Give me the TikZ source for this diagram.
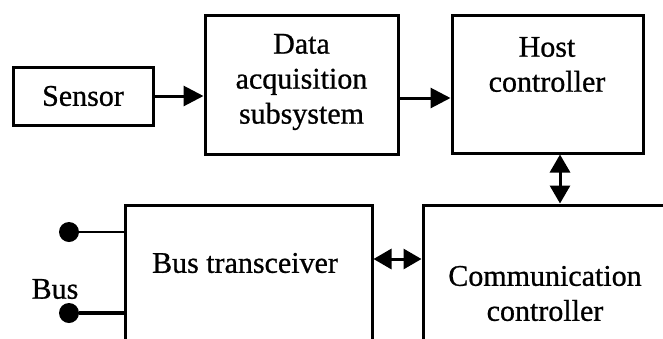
\documentclass[tikz,border=0pt]{standalone}
\usepackage{fontspec}
\setmainfont{Liberation Serif}
\newfontfamily\inkfont[FakeBold=0.8]{Liberation Serif}
\usetikzlibrary{arrows.meta}
\begin{document}
\begin{tikzpicture}[x=1pt, y=-1pt,
  every node/.style={font=\inkfont\fontsize{30}{35}\selectfont, inner sep=0pt},
  blk/.style={draw, line width=3pt, fill=none},
  lbl/.style={align=center},
  link/.style={line width=3pt, -{Triangle[length=20pt, width=20pt]}},
  duplex/.style={line width=3pt, {Triangle[length=18pt, width=20pt]}-{Triangle[length=18pt, width=20pt]}},
  terminal/.style={circle, fill, minimum size=20pt},
  wire/.style={line width=2.4pt}]
  \useasboundingbox (0,0) rectangle (663,338);
  \clip (0,0) rectangle (663,338);

  % upper row of blocks
  \node[blk, minimum width=140pt, minimum height=58pt] (sensor) at (83,96) {Sensor};
  \node[blk, minimum width=193pt, minimum height=139pt] (daq) at (301.5,84.5) {};
  \node[lbl] (daqtxt) at (301.5,82) {Data\\acquisition\\subsystem};
  \node[blk, minimum width=191pt, minimum height=138pt] (host) at (547.5,84) {};
  \node[lbl] (hosttxt) at (547,64.5) {Host\\controller};

  % lower row of blocks (continue below the frame)
  \node[blk, minimum width=247pt, minimum height=175pt] (bus) at (248.5,292.5) {};
  \node[lbl] (bustxt) at (245,263) {Bus transceiver};
  \node[blk, minimum width=267pt, minimum height=175pt] (comm) at (556.5,292.5) {};
  \node[lbl] (commtxt) at (545,293.5) {Communication\\controller};

  % data flow
  \draw[link] (sensor.east) -- (sensor.east -| daq.west);
  \draw[link] (daq.east |- 0,98) -- (host.west |- 0,98);
  \draw[duplex] (host.south -| 560,0) -- (comm.north -| 560,0);
  \draw[duplex] (bus.east |- 0,259) -- (comm.west |- 0,259);

  % bus terminals
  \node[terminal] (tA) at (69,232) {};
  \node[terminal] (tB) at (69,313) {};
  \draw[wire] (tA) -- (tA -| bus.west);
  \draw[line width=3.4pt] (tB) -- (tB -| bus.west);
  \node (buslbl) at (55,289) {Bus};
\end{tikzpicture}
\end{document}
